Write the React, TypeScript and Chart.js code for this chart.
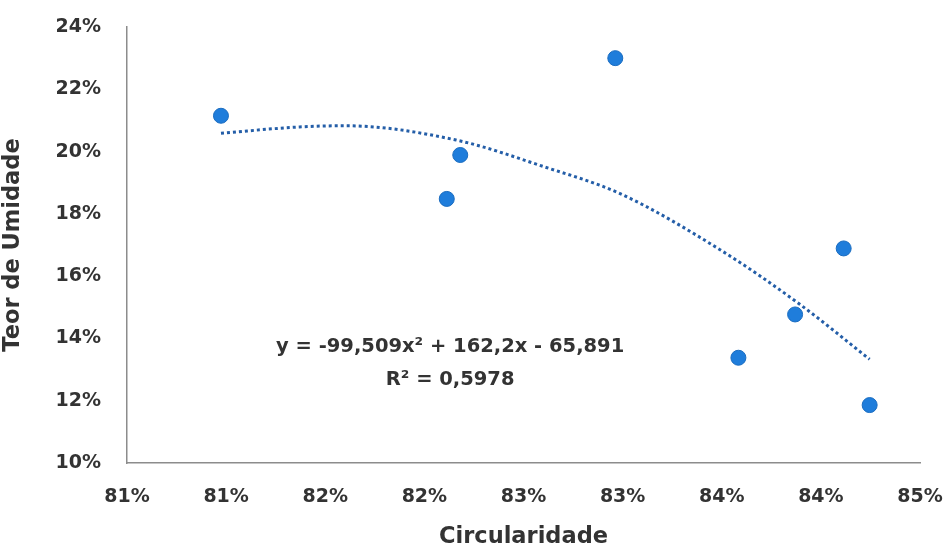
import React, { useEffect, useRef } from "react";
import { Chart, registerables } from "chart.js";

Chart.register(...registerables);

// Observed points: Circularidade (x) vs Teor de Umidade (y)
const circularidade = [0.80974, 0.82113, 0.82181, 0.82963, 0.83584, 0.8387, 0.84115, 0.84246];
const teorUmidade = [0.2115, 0.1848, 0.1989, 0.23, 0.1338, 0.1477, 0.1689, 0.1186];

// Polynomial trendline
const trendX = [0.80974, 0.8137, 0.816, 0.8216, 0.8261, 0.82987, 0.83491, 0.83895, 0.84246];
const trendY = [0.2059, 0.2079, 0.2083, 0.2037, 0.195, 0.1865, 0.1685, 0.1509, 0.1333];

const xTickLabels = ["81%", "81%", "82%", "82%", "83%", "83%", "84%", "84%", "85%"];
const equationLines = ["y = -99,509x² + 162,2x - 65,891", "R² = 0,5978"];

const FONT = "'DejaVu Sans', sans-serif";
const TEXT = "#333333";

export default function App() {
  const ref = useRef<HTMLCanvasElement | null>(null);

  useEffect(() => {
    document.body.style.margin = "0";
    const canvas = ref.current;
    if (!canvas) return;

    const eqPlugin = {
      id: "eqText",
      afterDatasetsDraw(chart: any) {
        const { ctx, scales } = chart;
        const cx = scales.x.getPixelForValue(0.8213);
        const y1 = scales.y.getPixelForValue(0.1372);
        const y2 = scales.y.getPixelForValue(0.1266);
        ctx.save();
        ctx.fillStyle = TEXT;
        ctx.font = `bold 19.5px ${FONT}`;
        ctx.textAlign = "center";
        ctx.textBaseline = "middle";
        ctx.fillText(equationLines[0], cx, y1);
        ctx.fillText(equationLines[1], cx, y2);
        ctx.restore();
      },
    };

    const chart = new Chart(canvas, {
      type: "scatter",
      data: {
        datasets: [
          {
            type: "line",
            data: trendX.map((x, i) => ({ x, y: trendY[i] })),
            borderColor: "#245ea8",
            borderWidth: 3,
            borderDash: [3, 3],
            pointRadius: 0,
            tension: 0.4,
            cubicInterpolationMode: "monotone",
            fill: false,
          } as any,
          {
            data: circularidade.map((x, i) => ({ x, y: teorUmidade[i] })),
            backgroundColor: "#1f7ddb",
            borderColor: "#1a6cc0",
            borderWidth: 1,
            pointRadius: 7.5,
          },
        ],
      },
      options: {
        animation: false,
        responsive: false,
        layout: { padding: { top: 27, right: 29, left: 0, bottom: 0 } },
        plugins: { legend: { display: false }, tooltip: { enabled: false } },
        scales: {
          x: {
            type: "linear",
            min: 0.805,
            max: 0.845,
            afterBuildTicks: (scale: any) => {
              scale.ticks = xTickLabels.map((_, i) => ({ value: 0.805 + i * 0.005 }));
            },
            afterFit: (scale: any) => {
              scale.height = 88;
              scale.paddingLeft = 0;
              scale.paddingRight = 0;
            },
            grid: { display: false, drawTicks: false },
            border: { display: true, color: "#8c8c8c", width: 1.5 },
            ticks: {
              padding: 23,
              color: TEXT,
              font: { family: FONT, size: 19, weight: "bold" },
              maxRotation: 0,
              autoSkip: false,
              callback: (_v: any, i: number) => xTickLabels[i],
            },
            title: {
              display: true,
              text: "Circularidade",
              color: TEXT,
              font: { family: FONT, size: 22.5, weight: "bold" },
              padding: { top: 6, bottom: 0 },
            },
          },
          y: {
            min: 0.1,
            max: 0.24,
            afterFit: (scale: any) => {
              scale.width = 127;
              scale.paddingTop = 0;
              scale.paddingBottom = 0;
            },
            grid: { display: false, drawTicks: false },
            border: { display: true, color: "#8c8c8c", width: 1.5 },
            ticks: {
              stepSize: 0.02,
              padding: 26,
              color: TEXT,
              font: { family: FONT, size: 19, weight: "bold" },
              callback: (v: any) => Math.round(Number(v) * 100) + "%",
            },
            title: {
              display: true,
              text: "Teor de Umidade",
              color: TEXT,
              font: { family: FONT, size: 22.5, weight: "bold" },
              padding: { top: 0, bottom: 0 },
            },
          },
        },
      },
      plugins: [eqPlugin],
    } as any);

    return () => chart.destroy();
  }, []);

  return (
    <div style={{ width: 949, height: 551, background: "#fff" }}>
      <canvas ref={ref} width={949} height={551} style={{ display: "block" }} />
    </div>
  );
}
